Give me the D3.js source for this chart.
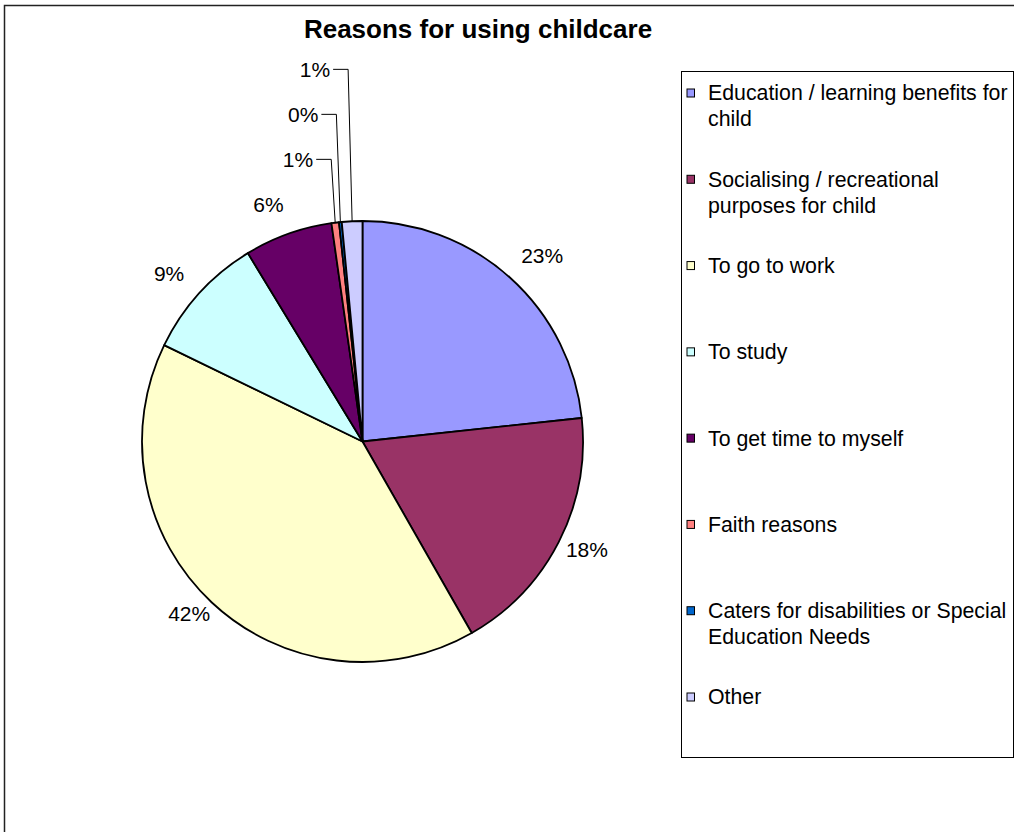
<!DOCTYPE html>
<html><head><meta charset="utf-8">
<script src="https://cdn.jsdelivr.net/npm/d3@7"></script>
<style>
body{margin:0;background:#fff;}
svg{display:block;font-family:"Liberation Sans",Arial,sans-serif;}
</style>
</head><body>
<svg id="chart" width="1014" height="832"></svg>
<script>
const chartTitle = "Reasons for using childcare";
const categories = [
  "Education / learning benefits for child",
  "Socialising / recreational purposes for child",
  "To go to work",
  "To study",
  "To get time to myself",
  "Faith reasons",
  "Caters for disabilities or Special Education Needs",
  "Other"
];
const values = [23.3, 18.45, 40.45, 9.1, 6.45, 0.55, 0.2, 1.5];
const pctLabels = ["23%", "18%", "42%", "9%", "6%", "1%", "0%", "1%"];
const colors = ["#9999FF", "#993366", "#FFFFCC", "#CCFFFF", "#660066", "#FF8080", "#0066CC", "#CCCCFF"];

const svg = d3.select("#chart");

// outer chart border (extends past right/bottom)
svg.append("rect").attr("x", 4.5).attr("y", 5.5).attr("width", 1100).attr("height", 1000)
  .attr("fill", "none").attr("stroke", "#222").attr("stroke-width", 1.5);

// title
svg.append("text").attr("x", 478).attr("y", 29).attr("dy", "0.35em")
  .attr("text-anchor", "middle").attr("font-weight", "bold").attr("font-size", 26)
  .text(chartTitle);

// pie
const cx = 362.5, cy = 441.5, r = 220.5;
const pie = d3.pie().sort(null).value(d => d);
const arcs = pie(values);
const arc = d3.arc().innerRadius(0).outerRadius(r);
const g = svg.append("g").attr("transform", `translate(${cx},${cy})`);
g.selectAll("path").data(arcs).join("path")
  .attr("d", arc).attr("fill", (d, i) => colors[i])
  .attr("stroke", "#000").attr("stroke-width", 1.8).attr("stroke-linejoin", "round");

// labels
const fs = 21;
const gap = 45;
let prevY = null;
arcs.forEach((d, i) => {
  const a = (d.startAngle + d.endAngle) / 2;
  const ux = Math.sin(a), uy = -Math.cos(a);
  const t = g.append("text").attr("font-size", fs).attr("dy", "0.35em").text(pctLabels[i]);
  const w = t.node().getComputedTextLength();
  if (values[i] < 2 && prevY !== null) {
    // stacked label with leader line
    const ex = r * ux, ey = r * uy;
    const ly = prevY - gap;
    const elbowX = ex - 4;
    t.attr("x", elbowX - 18).attr("y", ly).attr("text-anchor", "end");
    g.append("polyline")
      .attr("points", `${ex},${ey} ${elbowX},${ly} ${elbowX - 15},${ly}`)
      .attr("fill", "none").attr("stroke", "#000").attr("stroke-width", 1);
    prevY = ly;
  } else {
    const R = r + 22 - 10 * uy;
    const x = R * ux + Math.sign(ux) * 0.3 * w;
    const y = R * uy;
    t.attr("x", x).attr("y", y).attr("text-anchor", "middle");
    prevY = y;
  }
});

// legend
const lx = 681, ly0 = 71, lw = 332, lhBox = 686;
svg.append("rect").attr("x", lx + 0.5).attr("y", ly0 + 0.5).attr("width", lw).attr("height", lhBox)
  .attr("fill", "#fff").attr("stroke", "#000").attr("stroke-width", 1);
const itemY = d3.scalePoint().domain(categories).range([93, 697]);
const maxW = 306;
categories.forEach((c, i) => {
  const y = itemY(c);
  svg.append("rect").attr("x", 687).attr("y", y - 4).attr("width", 7.5).attr("height", 8)
    .attr("fill", colors[i]).attr("stroke", "#000").attr("stroke-width", 1);
  const t = svg.append("text").attr("x", 708).attr("y", y).attr("font-size", 21.3);
  const words = c.split(" ");
  let line = [];
  let ts = t.append("tspan").attr("x", 708).attr("dy", "0.35em");
  words.forEach(wd => {
    line.push(wd);
    ts.text(line.join(" "));
    if (ts.node().getComputedTextLength() > maxW && line.length > 1) {
      line.pop();
      ts.text(line.join(" "));
      line = [wd];
      ts = t.append("tspan").attr("x", 708).attr("dy", "26px").text(wd);
    }
  });
});
</script>
</body></html>
